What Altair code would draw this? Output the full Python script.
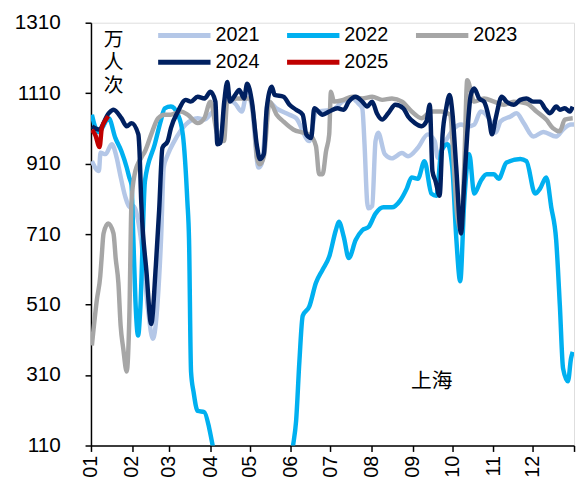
import altair as alt
import pandas as pd

# day-of-year (0 = Jan 1) and daily ridership (万人次) per year
days_2021 = [0.7, 6, 7.2, 11, 15.7, 19.4, 22, 26, 29.6, 32, 36, 39.5, 43, 46.8, 50.5, 53, 55, 58, 63, 71.6, 80.6, 85.6, 93, 95.5, 97.8, 103, 109, 114, 118, 121.6, 126.6, 129, 134, 140, 150, 155, 165, 170, 182.6, 190, 197.5, 202, 205, 206.7, 208.7, 209.7, 212.5, 215, 217, 222, 227.4, 235, 239.6, 247, 254.5, 259.7, 262, 265.7, 269.4, 274.6, 279.6, 284.3, 289.6, 294.5, 302, 305.8, 309.5, 317, 321.6, 327, 334.3, 341.8, 351.5, 356.7, 362.7, 365]
vals_2021 = [917, 889, 941, 937, 965, 927, 880, 815, 786, 790, 740, 640, 500, 413, 525, 700, 900, 935, 974, 1021, 1039, 1035, 1058, 1000, 990, 1095, 1080, 1058, 1114, 1070, 899, 910, 1086, 1067, 1049, 1039, 974, 1058, 1063, 1086, 1095, 1081, 1067, 965, 800, 783, 790, 974, 998, 937, 925, 940, 931, 955, 993, 974, 927, 960, 983, 1011, 1021, 1015, 1021, 1058, 1030, 998, 1030, 1044, 1053, 1025, 987, 1000, 987, 1007, 1021, 1021]

days_2022 = [0.7, 3.5, 6, 13.4, 18.4, 23, 27, 29, 30.6, 32, 33.6, 35.6, 37.3, 40.8, 48.2, 53, 55.7, 60.4, 65.7, 69.4, 72.8, 74.1, 75.6, 77.6, 80.6, 85.6, 89.3, 91.8, 95.5, 110, 133, 148, 152.8, 155, 157.5, 160, 165, 170, 175, 180, 185, 187.3, 191, 194.8, 200, 205, 209.7, 215, 221, 227.4, 233.6, 238.6, 242.3, 247, 252, 257.2, 261, 264.7, 269.4, 273, 276, 279, 282, 285.8, 289.6, 294.5, 299, 304.5, 308, 314, 324.4, 329, 335.6, 339.3, 344, 347.8, 351.5, 354.3, 356.7, 360.4, 362.7, 364]
vals_2022 = [1049, 1011, 1000, 1039, 983, 945, 899, 870, 850, 700, 520, 422, 500, 861, 965, 1035, 1067, 1072, 1049, 993, 805, 693, 320, 260, 208, 205, 160, 113, 50, 20, 20, 40, 113, 180, 350, 478, 505, 572, 609, 646, 721, 745, 702, 642, 693, 721, 730, 768, 786, 786, 805, 839, 871, 867, 917, 825, 819, 945, 965, 900, 700, 576, 800, 937, 825, 861, 880, 880, 867, 913, 923, 917, 825, 839, 871, 786, 693, 506, 329, 292, 357, 376]

days_2023 = [0.7, 4.5, 7, 8, 9.5, 13, 17, 18.7, 20.7, 22.4, 24.4, 27, 29, 30.6, 33, 38, 40.8, 45.5, 50.7, 55.7, 60.4, 68, 73, 80.6, 85.6, 90.3, 95.5, 100.5, 103, 110.4, 120, 124, 125.4, 127.6, 130.6, 135, 140.3, 145.3, 152.8, 160.2, 165, 170, 172.4, 175, 177.6, 180, 181.3, 183.6, 190, 197.5, 205, 212.5, 220, 227.4, 235, 242.3, 249.8, 257.2, 264.7, 271, 276.9, 279.6, 282, 284.3, 289.6, 297, 304.5, 312, 319.4, 329, 336.6, 344, 349, 354.3, 358, 364]
vals_2023 = [394, 525, 590, 640, 712, 740, 712, 640, 572, 450, 385, 320, 478, 800, 880, 927, 945, 993, 1039, 1049, 1049, 1058, 1049, 1025, 1039, 1086, 993, 974, 1090, 1095, 1095, 1000, 927, 908, 930, 1086, 1049, 1030, 1007, 998, 993, 960, 880, 880, 945, 993, 1114, 1086, 1090, 1100, 1095, 1100, 1091, 1095, 1086, 1058, 1039, 1058, 1058, 1050, 758, 720, 900, 1147, 1086, 1095, 1086, 1077, 1086, 1081, 1058, 1035, 1011, 1002, 1035, 1039]

days_2024 = [0.7, 6, 13.4, 17, 23, 27, 30.6, 35.8, 36.5, 38, 42, 45.5, 49, 51.5, 54, 58, 60.4, 65.7, 71.6, 75.4, 80.6, 85.8, 90.3, 94, 95.5, 97.8, 100.7, 103, 105, 109, 112, 115.7, 118, 121.6, 125.4, 127.6, 130.6, 132.8, 136.6, 138.8, 145.5, 150, 155, 160, 162.7, 166.4, 168.7, 175, 180, 186.3, 191, 194.8, 200, 205, 208.7, 212.5, 216, 220, 224.6, 230, 236, 239.6, 244.8, 249.8, 253.5, 256, 258, 260.4, 263.4, 265.7, 268.4, 271, 273, 276, 279.6, 282, 284.3, 287, 289.6, 293.3, 297, 300.7, 303, 305.8, 310.4, 314, 319.4, 324.4, 329, 334.3, 339.3, 343, 346.8, 351.6, 354.3, 358, 361.8, 364]
vals_2024 = [1016, 1007, 1053, 1063, 1039, 1016, 1025, 993, 960, 800, 600, 455, 620, 777, 955, 974, 1011, 1058, 1091, 1086, 1100, 1095, 1114, 1086, 965, 969, 1086, 1142, 1086, 1105, 1119, 1095, 1137, 1086, 960, 923, 937, 1067, 1128, 1105, 1100, 1077, 1063, 1049, 993, 983, 1067, 1049, 1058, 1067, 1063, 1086, 1100, 1086, 1072, 1086, 1053, 1035, 1053, 1077, 1067, 1044, 1025, 1016, 1030, 1077, 889, 860, 819, 993, 1067, 1105, 1058, 899, 712, 853, 993, 1105, 1123, 1095, 1086, 1039, 993, 1039, 1100, 1086, 1077, 1091, 1095, 1086, 1086, 1067, 1053, 1072, 1063, 1067, 1058, 1072]

days_2025 = [0.7, 3.2, 6.5, 8.2, 12, 13]
vals_2025 = [1006, 992, 957, 1011, 1039, 1045]

years = ["2021", "2022", "2023", "2024", "2025"]
colors = ["#B4C7E7", "#00B0F0", "#A6A6A6", "#002060", "#C00000"]

month_ticks = [0, 31, 59, 90, 120, 151, 181, 212, 243, 273, 304, 334, 365]
month_labels = ["01", "02", "03", "04", "05", "06", "07", "08", "09", "10", "11", "12", ""]
y_ticks = [110, 310, 510, 710, 910, 1110, 1310]

series = {
    "2021": (days_2021, vals_2021),
    "2022": (days_2022, vals_2022),
    "2023": (days_2023, vals_2023),
    "2024": (days_2024, vals_2024),
    "2025": (days_2025, vals_2025),
}
rows = []
for yr, (ds, vs) in series.items():
    for d, v in zip(ds, vs):
        rows.append({"year": yr, "day": d, "value": v})
df = pd.DataFrame(rows)

FONT = "Liberation Sans, Noto Sans CJK SC, sans-serif"
color_scale = alt.Scale(domain=years, range=colors)

label_expr = "[" + ",".join(f"'{m}'" for m in month_labels) + "][indexof([" + ",".join(str(t) for t in month_ticks) + "], datum.value)]"

lines = alt.Chart(df).mark_line(strokeWidth=4.5, interpolate="monotone", clip=True).encode(
    x=alt.X("day:Q", scale=alt.Scale(domain=[0, 365], nice=False, zero=False),
            axis=alt.Axis(values=month_ticks, labelExpr=label_expr, labelAngle=270,
                          title=None, grid=False, tickSize=6, labelPadding=4,
                          labelFontSize=20, labelFont=FONT, labelColor="#000",
                          domainColor="#000", tickColor="#000", domainWidth=1.5, tickWidth=1.5)),
    y=alt.Y("value:Q", scale=alt.Scale(domain=[110, 1310], nice=False, zero=False),
            axis=alt.Axis(values=y_ticks, format="d", title=None, grid=False, tickSize=6, labelPadding=25,
                          labelFontSize=21, labelFont=FONT, labelColor="#000",
                          domainColor="#000", tickColor="#000", domainWidth=1.5, tickWidth=1.5)),
    color=alt.Color("year:N", scale=color_scale, legend=None),
    order=alt.Order("year:N"),
)

# legend laid out as a 3-column grid (symbol line + label)
legend_df = pd.DataFrame({"year": years, "idx": list(range(len(years)))})
leg_base = alt.Chart(legend_df).transform_calculate(
    col="datum.idx % 3",
    row="floor(datum.idx / 3)",
).transform_calculate(
    x0="68 + datum.col * 130.5",
    x1="68 + datum.col * 130.5 + 53",
    tx="68 + datum.col * 130.5 + 58",
    yy="13 + datum.row * 27",
)
leg_sym = leg_base.mark_rule(strokeWidth=5).encode(
    x=alt.X("x0:Q", scale=None, axis=None),
    x2="x1:Q",
    y=alt.Y("yy:Q", scale=None, axis=None),
    color=alt.Color("year:N", scale=color_scale, legend=None),
)
leg_txt = leg_base.mark_text(fontSize=20, font=FONT, color="#000", align="left", baseline="middle").encode(
    x=alt.X("tx:Q", scale=None, axis=None),
    y=alt.Y("yy:Q", scale=None, axis=None),
    text="year:N",
)

unit = alt.Chart(pd.DataFrame({"t": [["万", "人", "次"]]})).mark_text(
    fontSize=20, font=FONT, color="#000", baseline="top", align="center", lineHeight=23
).encode(x=alt.value(23), y=alt.value(8), text="t")

city = alt.Chart(pd.DataFrame({"t": ["上海"]})).mark_text(
    fontSize=21, font=FONT, color="#000", baseline="middle", align="center"
).encode(x=alt.value(345), y=alt.value(364), text="t")

chart = alt.layer(lines, leg_sym, leg_txt, unit, city).properties(
    width=489, height=428,
    autosize=alt.AutoSizeParams(type="none"),
    padding={"left": 84, "top": 12, "right": 3, "bottom": 30},
).configure_view(stroke=None).configure(background="white")

chart.save("out.html", embed_options={"renderer": "svg", "actions": False})
